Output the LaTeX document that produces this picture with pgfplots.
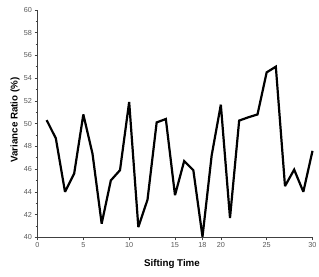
\documentclass[border=0pt]{standalone}
\usepackage{fontspec}
\setmainfont{Liberation Sans}
\usepackage{pgfplots}
\pgfplotsset{compat=1.18}
\begin{document}
\begin{tikzpicture}
\begin{axis}[
  scale only axis,
  width=275bp, height=227.5bp,
  xmin=0, xmax=30, ymin=40, ymax=60,
  axis lines*=left,
  axis line style={black!75, line width=0.7bp},
  xtick={0,5,10,15,18,20,25,30},
  ytick={40,42,...,60},
  minor ytick={41,43,...,59},
  tick align=outside,
  major tick length=3bp,
  minor tick length=2bp,
  tick style={black!75, line width=0.6bp},
  /pgf/number format/assume math mode=true,
  tick label style={font=\fontsize{7.3}{8}\selectfont, text=black!65},
  xticklabel style={yshift=1bp},
  yticklabel style={xshift=1bp},
  xlabel={Sifting Time},
  ylabel={Variance Ratio (\%)},
  every axis x label/.style={at={(axis description cs:0.5,0)}, xshift=-3bp, yshift=-26.5bp, anchor=center, font=\fontsize{9.8}{11}\selectfont\bfseries},
  every axis y label/.style={at={(axis description cs:0,0.5)}, xshift=-22.5bp, yshift=3.5bp, rotate=90, anchor=center, font=\fontsize{9.8}{11}\selectfont\bfseries},
  clip=false,
]
\addplot[black, line width=2.2bp, line join=miter, miter limit=3, mark=none] coordinates {
(1,50.3) (2,48.7) (3,44.0) (4,45.6) (5,50.8) (6,47.35) (7,41.2) (8,45.0) (9,45.9) (10,51.9)
(11,40.9) (12,43.3) (13,50.1) (14,50.4) (15,43.7) (16,46.7) (17,45.9) (18,40.05) (19,47.2) (20,51.66)
(21,41.7) (22,50.26) (23,50.55) (24,50.8) (25,54.5) (26,55.0) (27,44.5) (28,45.95) (29,44.0) (30,47.6)
};
\end{axis}
\pgfresetboundingbox
\path[use as bounding box] (-37.5bp,-39.7bp) rectangle (281.5bp,237.3bp);
\end{tikzpicture}
\end{document}
